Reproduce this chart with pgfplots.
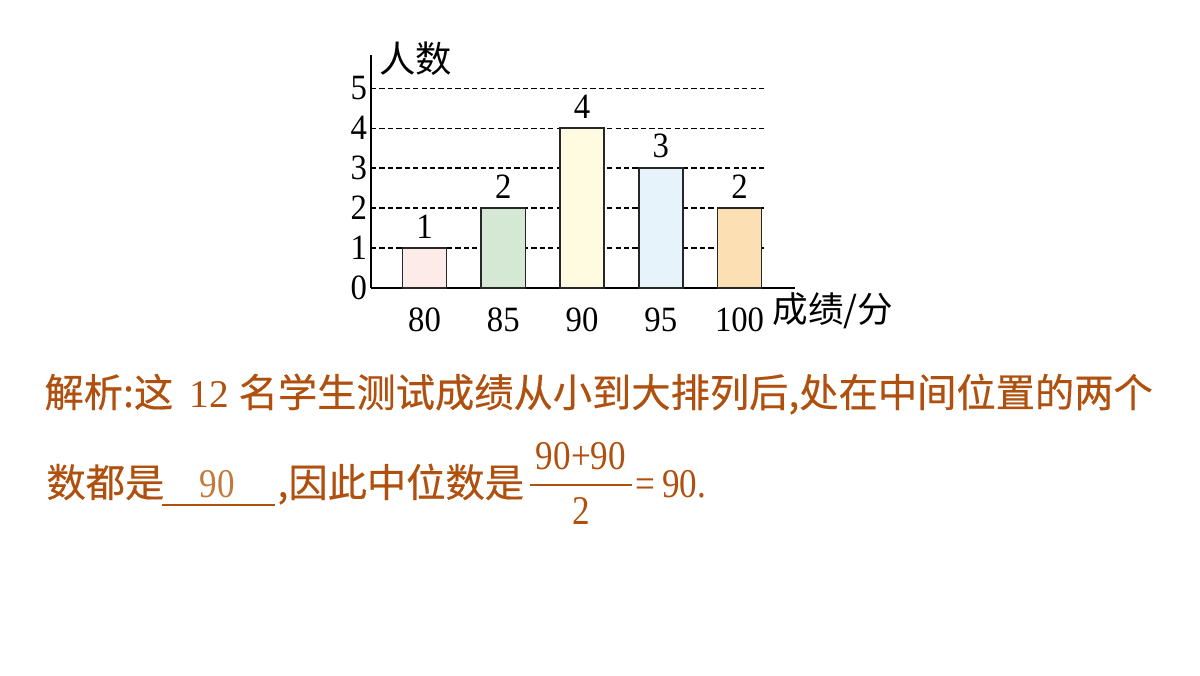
\documentclass[border=0pt]{standalone}
\usepackage{pgfplots}
\pgfplotsset{compat=1.18}
\usepackage{fontspec}
\setmainfont{Liberation Serif}
\newfontfamily\cjk{Noto Sans CJK SC}
\newfontfamily\cjkb{Noto Sans CJK SC}[FakeBold=0.4]
\newfontfamily\numc{Liberation Serif}[FakeStretch=0.86]
\newfontfamily\numd{Liberation Serif}[FakeStretch=0.92]
\definecolor{txt}{HTML}{B0500F}
\definecolor{lgt}{HTML}{C27A3C}
\definecolor{b1}{HTML}{FCEBE8}
\definecolor{b2}{HTML}{D5E8D4}
\definecolor{b3}{HTML}{FEFBE0}
\definecolor{b4}{HTML}{E6F3FB}
\definecolor{b5}{HTML}{FCE0B4}
\begin{document}
\begin{tikzpicture}[x=0.0133333cm,y=0.0133333cm]
\path (0,0) rectangle (1200,675);
\coordinate (O) at (371,387);
\begin{axis}[
  at={(O)}, anchor=south west,
  scale only axis, width=5.65cm, height=3.107cm,
  xmin=-0.68, xmax=4.70, ymin=0, ymax=5.83,
  axis lines=left, axis line style={-, line width=0.8pt},
  xtick={0,1,2,3,4}, xticklabels={80,85,90,95,100},
  ytick={0,1,2,3,4,5}, yticklabels={0,1,2,3,4,5},
  major tick length=0pt,
  tick label style={font=\numd\fontsize{13.5pt}{14pt}\selectfont},
  xticklabel style={yshift=-4pt},
  yticklabel style={xshift=2pt},
  /pgf/number format/assume math mode=true,
  nodes near coords,
  nodes near coords style={font=\numd\fontsize{13.5pt}{14pt}\selectfont, inner sep=3.5pt},
  clip=false,
]
% dashed guide lines
\addplot[no marks, line width=0.5pt, dash pattern=on 2pt off 1.2pt, nodes near coords={}] coordinates {(-0.68,1) (4.324,1)};
\addplot[no marks, line width=0.5pt, dash pattern=on 2pt off 1.2pt, nodes near coords={}] coordinates {(-0.68,2) (4.324,2)};
\addplot[no marks, line width=0.5pt, dash pattern=on 2pt off 1.2pt, nodes near coords={}] coordinates {(-0.68,3) (4.324,3)};
\addplot[no marks, line width=0.5pt, dash pattern=on 2pt off 1.2pt, nodes near coords={}] coordinates {(-0.68,4) (4.324,4)};
\addplot[no marks, line width=0.5pt, dash pattern=on 2pt off 1.2pt, nodes near coords={}] coordinates {(-0.68,5) (4.324,5)};
% bars
\addplot[ybar, bar width=0.56, bar shift=0pt, fill=b1, draw=black!85, line width=0.6pt] coordinates {(0,1)};
\addplot[ybar, bar width=0.56, bar shift=0pt, fill=b2, draw=black!85, line width=0.6pt] coordinates {(1,2)};
\addplot[ybar, bar width=0.56, bar shift=0pt, fill=b3, draw=black!85, line width=0.6pt] coordinates {(2,4)};
\addplot[ybar, bar width=0.56, bar shift=0pt, fill=b4, draw=black!85, line width=0.6pt] coordinates {(3,3)};
\addplot[ybar, bar width=0.56, bar shift=0pt, fill=b5, draw=black!85, line width=0.6pt] coordinates {(4,2)};
\end{axis}
% axis titles
\node[anchor=base west, inner sep=0pt, font=\cjk\fontsize{13.8pt}{15pt}\selectfont] at (379,603) {人数};
\node[anchor=base west, inner sep=0pt, font=\cjk\fontsize{13.5pt}{15pt}\selectfont] at (772,353) {成绩/分};
% explanation, line 1
\node[anchor=base west, inner sep=0pt, text=txt, font=\fontsize{14.9pt}{16pt}\selectfont] at (44,268)
  {{\cjkb 解析:这}\ \,12\ {\cjkb 名学生测试成绩从小到大排列后,处在中间位置的两个}};
% line 2
\node[anchor=base west, inner sep=0pt, text=txt, font=\cjkb\fontsize{14.9pt}{16pt}\selectfont] at (46,178) {数都是};
\draw[txt, line width=0.5pt] (162,170) -- (275,170);
\node[anchor=base, inner sep=0pt, text=lgt, font=\numc\fontsize{15.5pt}{17pt}\selectfont] at (217,178) {90};
\node[anchor=base west, inner sep=0pt, text=txt, font=\cjkb\fontsize{14.9pt}{16pt}\selectfont] at (277,178) {,因此中位数是};
\node[anchor=base, inner sep=0pt, text=txt, font=\numc\fontsize{15.5pt}{17pt}\selectfont] at (581,206) {90+90};
\draw[txt, line width=0.5pt] (530,190) -- (632,190);
\node[anchor=base, inner sep=0pt, text=txt, font=\numc\fontsize{15.5pt}{17pt}\selectfont] at (581,151) {2};
\node[anchor=base west, inner sep=0pt, text=txt, font=\numc\fontsize{15.5pt}{17pt}\selectfont] at (635,178) {=\,90.};
\end{tikzpicture}
\end{document}
